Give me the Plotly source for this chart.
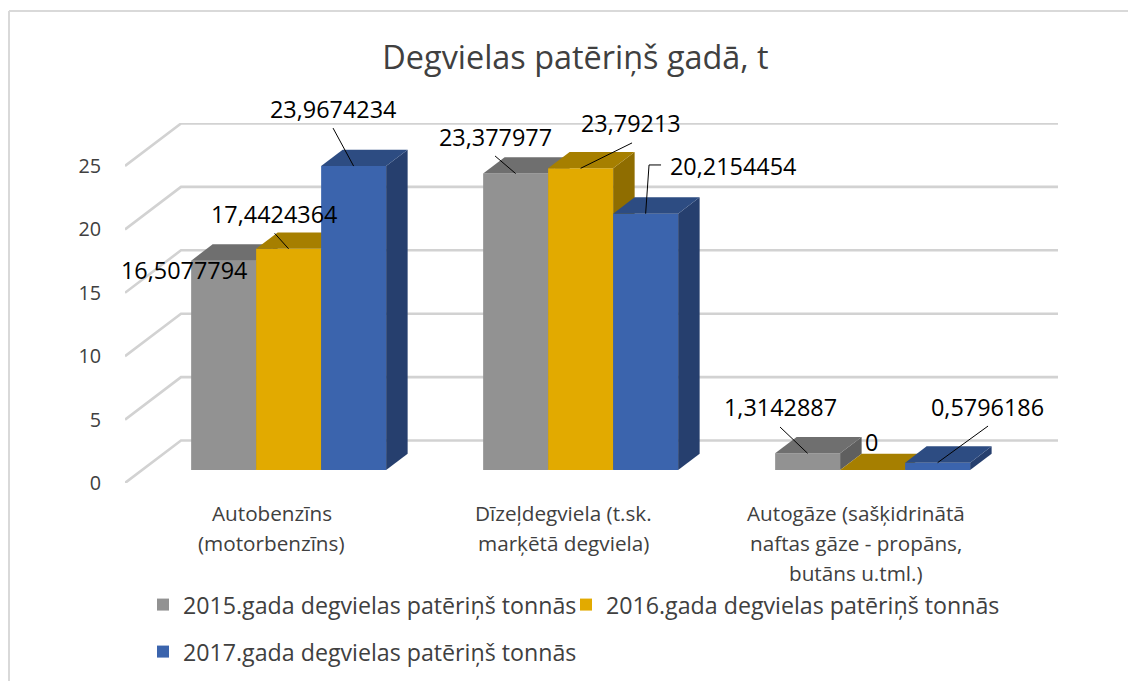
import plotly.graph_objects as go

W, H = 1128, 681
TITLE = "Degvielas patēriņš gadā, t"
CATEGORIES = ["Autobenzīns<br>(motorbenzīns)",
              "Dīzeļdegviela (t.sk.<br>marķētā degviela)",
              "Autogāze (sašķidrinātā<br>naftas gāze - propāns,<br>butāns u.tml.)"]
SERIES_NAMES = ["2015.gada degvielas patēriņš tonnās",
                "2016.gada degvielas patēriņš tonnās",
                "2017.gada degvielas patēriņš tonnās"]
VALUES_2015 = [16.5077794, 23.377977, 1.3142887]
VALUES_2016 = [17.4424364, 23.79213, 0]
VALUES_2017 = [23.9674234, 20.2154454, 0.5796186]
Y_TICKS = [0, 5, 10, 15, 20, 25]
FRONT = ["#929292", "#E2AA00", "#3B64AD"]
TOP = ["#6F6F6F", "#A67F00", "#2D4C82"]
SIDE = ["#5F5F5F", "#8F6D00", "#263F6E"]

# Layout geometry (pixels)
PX_PER_CAT = 292.0
PX_PER_UNIT = 12.68
LEFT, RIGHT, BOTTOM, TOP_Y = 125, 1058, 483, 123
CAT0 = 271.5
DX = 56 / PX_PER_CAT      # full floor depth, in category units
DY = 42.5 / PX_PER_UNIT   # full floor depth, in value units
D0, DEPTH = 0.306, 0.384  # bar front position and bar depth, as floor fractions
BAR_W = 65 / PX_PER_CAT
XR = [(LEFT - CAT0) / PX_PER_CAT, (RIGHT - CAT0) / PX_PER_CAT]
YR = [0, (BOTTOM - TOP_Y) / PX_PER_UNIT]
BASE = D0 * DY
TXT = "#404040"
FONT = "Open Sans"

# label centre offset and connector points from the bar's top, pixels (x right, y down)
LABEL_OFF = [[(-40, 9), (-20.6, -36.6), (-27.6, -46.3)],
             [(-14.6, -35), (50.4, -45.4), (-1.6, -28)],
             [(-20.6, -57), (87.4, -47.7), (49.4, -55.6)]]
CONN = [[[], [(-20.6, -17.6)], [(-27.6, -26.3)]],
        [[(-14, -15.5)], [(51.4, -25.4)], []],
        [[(-20.6, -38)], [(3.4, -48.7), (15.4, -48.7)], [(50.4, -36.6)]]]

fig = go.Figure()
ALL = [VALUES_2015, VALUES_2016, VALUES_2017]
n = len(CATEGORIES)

# Walls: oblique gridlines
for t in Y_TICKS:
    fig.add_trace(go.Scatter(
        x=[XR[0], XR[0] + DX, XR[1]], y=[t, t + DY, t + DY], mode="lines",
        line=dict(color="#D2D2D2", width=2.6), hoverinfo="skip", showlegend=False,
        cliponaxis=False, xaxis="x", yaxis="y"))

annotations = []
for j, vals in enumerate(ALL):
    xa, ya = f"x{j + 2}", f"y{j + 2}"
    cx = [i + D0 * DX + (j - 1) * BAR_W for i in range(n)]
    for i, v in enumerate(vals):
        xl, xr = cx[i] - BAR_W / 2, cx[i] + BAR_W / 2
        ddx, ddy = DEPTH * DX, DEPTH * DY
        fig.add_trace(go.Scatter(
            x=[xr, xr, xr + ddx, xr + ddx, xr], y=[BASE, BASE + v, BASE + v + ddy, BASE + ddy, BASE],
            mode="lines", fill="toself", fillcolor=SIDE[j], line=dict(width=0), hoverinfo="skip",
            showlegend=False, cliponaxis=False, xaxis=xa, yaxis=ya))
        fig.add_trace(go.Scatter(
            x=[xl, xr, xr + ddx, xl + ddx, xl], y=[BASE + v, BASE + v, BASE + v + ddy, BASE + v + ddy, BASE + v],
            mode="lines", fill="toself", fillcolor=TOP[j], line=dict(width=0), hoverinfo="skip",
            showlegend=False, cliponaxis=False, xaxis=xa, yaxis=ya))
    fig.add_trace(go.Bar(
        x=cx, y=vals, base=[BASE] * n, width=BAR_W, name=SERIES_NAMES[j],
        marker=dict(color=FRONT[j], line=dict(width=0)), xaxis=xa, yaxis=ya,
        legend="legend" if j == 0 else f"legend{j + 1}"))

# Data labels and their leader lines
for j, vals in enumerate(ALL):
    for i, v in enumerate(vals):
        ax = i + D0 * DX + (j - 1) * BAR_W
        ay = BASE + v
        ox, oy = LABEL_OFF[j][i]
        annotations.append(dict(
            x=ax, y=ay, xref="x", yref="y", xshift=ox, yshift=-oy, showarrow=False,
            text=str(v).replace(".", ","), font=dict(family=FONT, size=23.4, color="#000000"),
            xanchor="center", yanchor="middle"))
        if CONN[j][i]:
            pts = [(0, 0)] + CONN[j][i]
            fig.add_trace(go.Scatter(
                x=[ax + p[0] / PX_PER_CAT for p in pts], y=[ay - p[1] / PX_PER_UNIT for p in pts],
                mode="lines", line=dict(color="#000000", width=1), hoverinfo="skip",
                showlegend=False, cliponaxis=False, xaxis="x4", yaxis="y4"))

# Category labels: one annotation per line, for the wide line spacing
for i, cat in enumerate(CATEGORIES):
    for k, line in enumerate(cat.split("<br>")):
        annotations.append(dict(
            x=i, xref="x", y=1 - (513 + 30 * k) / H, yref="paper", text=line, showarrow=False,
            font=dict(family=FONT, size=20.7, color=TXT), xanchor="center", yanchor="middle"))

xbase = dict(range=XR, domain=[LEFT / W, RIGHT / W], fixedrange=True)
ybase = dict(range=YR, domain=[1 - BOTTOM / H, 1 - TOP_Y / H], fixedrange=True)
layout = dict(
    width=W, height=H, autosize=False, margin=dict(l=0, r=0, t=0, b=0, autoexpand=False),
    paper_bgcolor="white", plot_bgcolor="rgba(0,0,0,0)", barmode="overlay",
    title=dict(text=TITLE, x=575.5 / W, xanchor="center", y=1 - 58 / H, yanchor="middle",
               font=dict(family=FONT, size=32.4, color=TXT)),
    xaxis=dict(**xbase, showgrid=False, zeroline=False, showline=False, showticklabels=False, ticks=""),
    yaxis=dict(**ybase, tickmode="array", tickvals=Y_TICKS, showgrid=False, zeroline=False,
               showline=False, ticks="outside", ticklen=19, tickcolor="rgba(0,0,0,0)",
               tickfont=dict(family=FONT, size=19.8, color=TXT)),
    annotations=annotations,
    shapes=[
        dict(type="line", xref="paper", yref="paper", x0=9 / W, x1=1, y0=1 - 11 / H, y1=1 - 11 / H,
             line=dict(color="#D9D9D9", width=2)),
        dict(type="line", xref="paper", yref="paper", x0=9 / W, x1=9 / W, y0=0, y1=1 - 11 / H,
             line=dict(color="#D9D9D9", width=2)),
    ],
    hovermode=False,
)
for k in (2, 3, 4):
    layout[f"xaxis{k}"] = dict(**xbase, overlaying="x", matches="x", visible=False)
    layout[f"yaxis{k}"] = dict(**ybase, overlaying="y", matches="y", visible=False)
LEG_POS = [(143, 605), (566, 605), (143, 652)]
for idx, (lx, ly) in enumerate(LEG_POS):
    key = "legend" if idx == 0 else f"legend{idx + 1}"
    layout[key] = dict(x=lx / W, y=1 - ly / H, xanchor="left", yanchor="middle",
                       bgcolor="rgba(0,0,0,0)", font=dict(family=FONT, size=23.2, color=TXT),
                       orientation="h")
fig.update_layout(**layout)
fig.write_html("out.html", post_script="document.body.style.margin='0';",
               config={"displayModeBar": False})
